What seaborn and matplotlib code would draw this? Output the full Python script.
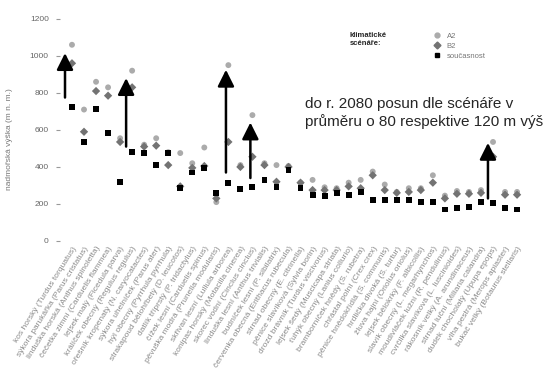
import pandas as pd
import seaborn as sns
import matplotlib.pyplot as plt
from matplotlib.lines import Line2D

# druhy (osa x)
species = [
    "kos horský (Turdus torquatus)", "sýkora parukářka (Parus cristatus)",
    "linduška horská (Anthus spinoletta)", "čečetka zimní (Carduelis flammea)",
    "lejsek malý (Ficedula parva)", "králíček obecný (Regulus regulus)",
    "ořešník kropenatý (N. caryocatactes)", "sýkora uhelníček (Parus ater)",
    "hýl obecný (Pyrrhula pyrrhula)", "strakapoud bělohřbetý (D. leucotos)",
    "datlík tříprstý (P. tridactylus)", "čížek lesní (Carduelis spinus)",
    "pěvuška modrá (Prunella modularis)", "skřivan lesní (Lullula arborea)",
    "konipas horský (Motacilla cinerea)", "skorec vodní (Cinclus cinclus)",
    "linduška lesní (Anthus trivialis)", "budníček lesní (P. sibilatrix)",
    "červenka obecná (Erithacus rubecula)", "strnad obecný (E. citrinella)",
    "pěnice slavíková (Sylvia borin)", "drozd brávník (Turdus viscivorus)",
    "lejsek šedý (Muscicapa striata)", "ťuhýk obecný (Lanius collurio)",
    "bramborníček hnědý (S. rubetra)", "chřástal polní (Crex crex)",
    "pěnice hnědokřídlá (S. communis)", "hrdlička divoká (S. turtur)",
    "žluva hajní (Oriolus oriolus)", "lejsek bělokrký (F. albicollis)",
    "slavík obecný (L. megarhynchos)", "moudivláček lužní (R. pendulinus)",
    "cvrčilka slavíková (L. luscinioides)", "rákosník velký (A. arundinaceus)",
    "strnad luční (Miliaria calandra)", "dudek chocholatý (Upupa epops)",
    "vlha pestrá (Merops apiaster)", "bukač velký (Botaurus stellaris)",
]

# průměrná nadmořská výška [m]
current = [725, 535, 715, 585, 320, 480, 475, 410, 475, 285, 370, 395, 260, 315,
           280, 290, 330, 290, 385, 285, 250, 245, 260, 250, 265, 220, 220, 220,
           220, 210, 210, 170, 180, 185, 210, 205, 180, 170]
scen_b = [960, 590, 810, 785, 535, 830, 510, 515, 410, 295, 395, 405, 230, 535,
          400, 455, 410, 320, 400, 315, 275, 275, 275, 295, 285, 355, 275, 260,
          265, 275, 315, 230, 255, 255, 260, 455, 250, 250]
scen_a = [1060, 710, 860, 830, 555, 920, 520, 555, 480, 475, 420, 505, 210, 950,
          410, 680, 420, 410, 405, 315, 330, 290, 285, 315, 330, 375, 305, 265,
          285, 285, 355, 245, 270, 265, 275, 535, 265, 265]

series_names = ["A2", "B2", "současnost"]
y_ticks = [0, 200, 400, 600, 800, 1000, 1200]

# šipky posunu
arrow_species = [species[0], species[5], species[13], species[15], species[35]]
arrow_from = [775, 510, 370, 340, 230]
arrow_to = [1015, 880, 925, 640, 530]
arrow_dx = [-0.58, -0.5, -0.2, -0.17, -0.42]

df = pd.DataFrame({
    "druh": species * 3,
    "výška": scen_a + scen_b + current,
    "scénář": [series_names[0]] * len(species) + [series_names[1]] * len(species)
              + [series_names[2]] * len(species),
})

sns.set_style("white")
plt.rcParams["font.family"] = ["Liberation Sans", "DejaVu Sans"]

fig = plt.figure(figsize=(5.5, 3.81), dpi=100)
ax = fig.add_axes([0.109, 0.3675, 0.853, 0.583])

colors = {"A2": "#ababab", "B2": "#737373", "současnost": "#000000"}
markers = {"A2": "o", "B2": "D", "současnost": "s"}
sns.scatterplot(data=df, x="druh", y="výška", hue="scénář", style="scénář",
                palette=colors, markers=markers, s=18, linewidth=0,
                legend=False, ax=ax, zorder=3)

pos = {name: i for i, name in enumerate(species)}
for sp, y0, y1, dx in zip(arrow_species, arrow_from, arrow_to, arrow_dx):
    x = pos[sp] + dx
    ax.annotate("", xy=(x, y1), xytext=(x, y0),
                arrowprops=dict(arrowstyle="-|>,head_length=1.0,head_width=0.5",
                                lw=1.8, color="black", mutation_scale=10,
                                shrinkA=0, shrinkB=0), zorder=4)

ax.set_xlim(-1, len(species))
ax.set_ylim(0, 1200)
ax.set_yticks(y_ticks)
ax.set_yticklabels([str(t) for t in y_ticks], fontsize=6, color="#666666")
ax.tick_params(axis="y", length=3, pad=5, color="#999999", left=True)
ax.set_xticks(range(len(species)))
ax.set_xticklabels(species, rotation=58, ha="right", rotation_mode="anchor",
                   fontsize=6, color="#8a8a8a")
ax.tick_params(axis="x", length=0, pad=3)
for s in ax.spines.values():
    s.set_visible(False)

ax.set_xlabel("")
ax.set_ylabel("nadmořská výška (m n. m.)", fontsize=6, color="#777777")
ax.yaxis.set_label_coords(-0.1, 0.46)

fig.text(0.555, 0.745, "do r. 2080 posun dle scénáře v\nprůměru o 80 respektive 120 m výš",
         fontsize=11, va="top", ha="left", linespacing=1.2)

fig.text(0.636, 0.915, "klimatické\nscénáře:", fontsize=5.5, fontweight="bold",
         va="top", ha="left")
handles = [Line2D([], [], ls="", marker=markers[n], color=colors[n], markersize=3.5)
           for n in series_names]
ax.legend(handles, series_names, loc="upper left", bbox_to_anchor=(0.78, 0.925),
          bbox_transform=fig.transFigure, frameon=False, fontsize=5.5,
          handlelength=1, handletextpad=0.8, labelspacing=0.35, borderpad=0,
          labelcolor="#777777")

fig.savefig("out.png", dpi=100)
